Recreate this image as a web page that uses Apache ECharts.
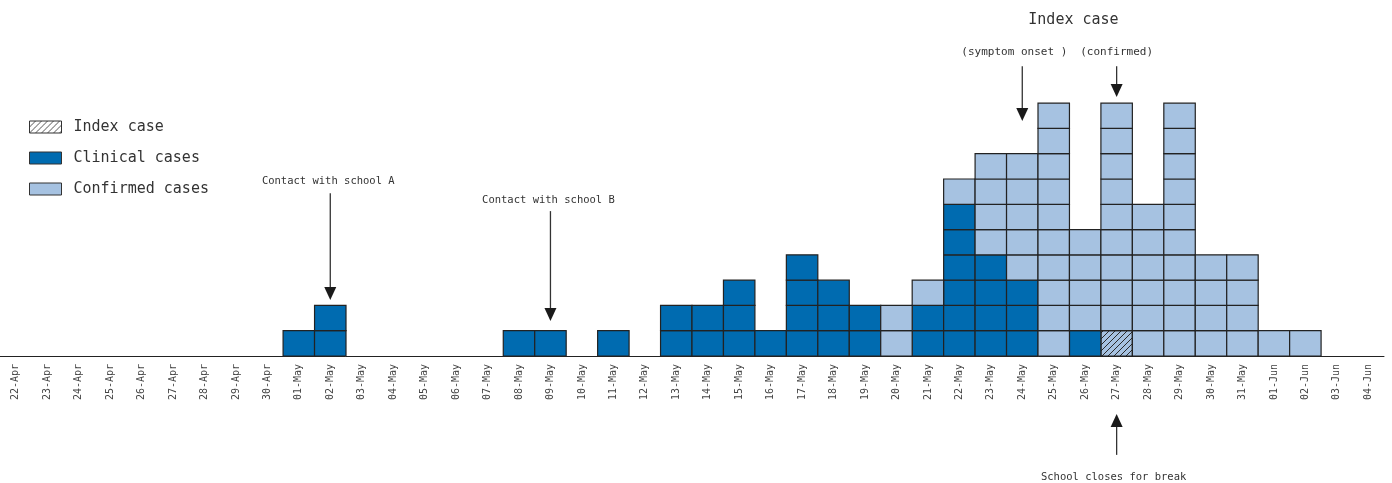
<!DOCTYPE html>
<html><head><meta charset="utf-8">
<script src="https://cdn.jsdelivr.net/npm/echarts@6/dist/echarts.min.js"></script>
<style>html,body{margin:0;padding:0;background:#fff}#c{width:1392px;height:483px}</style>
</head><body><div id="c"></div>
<script>
// ---- data ----
const dates = ['22-Apr','23-Apr','24-Apr','25-Apr','26-Apr','27-Apr','28-Apr','29-Apr','30-Apr',
  '01-May','02-May','03-May','04-May','05-May','06-May','07-May','08-May','09-May','10-May','11-May',
  '12-May','13-May','14-May','15-May','16-May','17-May','18-May','19-May','20-May','21-May','22-May',
  '23-May','24-May','25-May','26-May','27-May','28-May','29-May','30-May','31-May',
  '01-Jun','02-Jun','03-Jun','04-Jun'];
const indexCases = [0,0,0,0,0,0,0,0,0, 0,0,0,0,0,0,0,0,0,0,0, 0,0,0,0,0,0,0,0,0,0,0, 0,0,0,0,1,0,0,0,0, 0,0,0,0];
const clinicalCases = [0,0,0,0,0,0,0,0,0, 1,2,0,0,0,0,0,1,1,0,1, 0,2,2,3,1,4,3,2,0,2,6, 4,3,0,1,0,0,0,0,0, 0,0,0,0];
const confirmedCases = [0,0,0,0,0,0,0,0,0, 0,0,0,0,0,0,0,0,0,0,0, 0,0,0,0,0,0,0,0,2,1,1, 4,5,10,4,9,6,10,4,4, 1,1,0,0];

// ---- styling ----
const FONT = '"DejaVu Sans Mono", "Liberation Mono", monospace';
const DARK = '#006bb0', LIGHT = '#a6c2e1', EDGE = '#222';
function makeHatch(bg, fg) {
  const c = document.createElement('canvas');
  c.width = 6; c.height = 6;
  const g = c.getContext('2d');
  g.fillStyle = bg; g.fillRect(0,0,6,6);
  g.strokeStyle = fg; g.lineWidth = 1;
  g.beginPath();
  g.moveTo(-1,7); g.lineTo(7,-1);
  g.moveTo(-4,4); g.lineTo(4,-4);
  g.moveTo(2,10); g.lineTo(10,2);
  g.stroke();
  return {image: c, repeat: 'repeat'};
}
const HATCH = makeHatch(LIGHT, '#2a2a2a');
const HATCH_LEGEND = makeHatch('#ffffff', '#555');

const idxBase = dates.map(() => 0);
const clinBase = indexCases.slice();
const confBase = indexCases.map((v,i) => v + clinicalCases[i]);

function cellSeries(name, values, bases, fill) {
  return {
    type: 'custom', name,
    itemStyle: {color: fill, borderColor: EDGE, borderWidth: 1},
    data: values.map((v,i) => [i, bases[i], v]),
    encode: {x: 0, y: 1},
    renderItem: function(params, api) {
      const i = api.value(0), b = api.value(1), n = api.value(2);
      const w = api.size([1, 0])[0];
      const children = [];
      for (let k = 0; k < n; k++) {
        const p0 = api.coord([i, b + k]);
        const p1 = api.coord([i, b + k + 1]);
        children.push({type: 'rect',
          shape: {x: p0[0] - w/2, y: p1[1], width: w, height: p0[1] - p1[1]},
          style: {fill: fill, stroke: EDGE, lineWidth: 1.2}});
      }
      return {type: 'group', children};
    }
  };
}

const chart = echarts.init(document.getElementById('c'));
chart.setOption({
  animation: false,
  backgroundColor: '#fff',
  grid: {left: -2, right: 8, top: 2, bottom: 127},
  legend: {
    orient: 'vertical', left: 29, top: 119, padding: 0,
    itemWidth: 32, itemHeight: 12, itemGap: 15,
    icon: 'rect',
    itemStyle: {borderColor: '#333', borderWidth: 1},
    textStyle: {fontFamily: FONT, fontSize: 15, color: '#333', lineHeight: 16, padding: [0,0,0,7]},
    data: [
      {name: 'Index case', itemStyle: {color: HATCH_LEGEND}},
      'Clinical cases', 'Confirmed cases'
    ]
  },
  xAxis: {
    type: 'category', data: dates,
    axisLine: {lineStyle: {color: '#222', width: 1}},
    axisTick: {show: false},
    axisLabel: {interval: 0, rotate: 90, margin: 8, fontFamily: FONT, fontSize: 10, color: '#444'}
  },
  yAxis: {type: 'value', min: 0, max: 14, show: false},
  series: [
    cellSeries('Index case', indexCases, idxBase, HATCH),
    cellSeries('Clinical cases', clinicalCases, clinBase, DARK),
    cellSeries('Confirmed cases', confirmedCases, confBase, LIGHT)
  ]
});

// ---- annotations (arrows positioned from the axes) ----
const annotations = [
  {date: '02-May', text: 'Contact with school A', textY: 6.92, tailY: 6.44, tipY: 2.21, dx: -2, size: 10.5},
  {date: '09-May', text: 'Contact with school B', textY: 6.17, tailY: 5.73, tipY: 1.38, dx: -2, size: 10.5},
  {date: '24-May', text: '(symptom onset )', textY: 12.0, tailY: 11.46, tipY: 9.29, dx: -8, size: 11},
  {date: '27-May', text: '(confirmed)', textY: 12.0, tailY: 11.46, tipY: 10.24, dx: 0, size: 11},
  {date: '27-May', text: 'School closes for break', textY: -4.78, tailY: -3.91, tipY: -2.29, dx: -3, size: 10.5}
];
const elements = [];
annotations.forEach(a => {
  const tip = chart.convertToPixel({gridIndex: 0}, [a.date, a.tipY]);
  const tail = chart.convertToPixel({gridIndex: 0}, [a.date, a.tailY]);
  const txt = chart.convertToPixel({gridIndex: 0}, [a.date, a.textY]);
  const x = tip[0];
  const dir = tip[1] > tail[1] ? 1 : -1; // 1: pointing down
  const hb = tip[1] - dir * 13;
  elements.push({type: 'line', shape: {x1: x, y1: tail[1], x2: x, y2: hb},
    style: {stroke: '#333', lineWidth: 1.3}, silent: true});
  elements.push({type: 'polygon', shape: {points: [[x - 6, hb], [x + 6, hb], [x, tip[1]]]},
    style: {fill: '#1a1a1a'}, silent: true});
  elements.push({type: 'text', x: x + a.dx, y: txt[1],
    style: {text: a.text, font: a.size + 'px ' + FONT, fill: '#333', align: 'center', verticalAlign: 'middle'}, silent: true});
});
const s1 = chart.convertToPixel({gridIndex: 0}, ['24-May', 13.3]);
const s2 = chart.convertToPixel({gridIndex: 0}, ['27-May', 13.3]);
elements.push({type: 'text', x: (s1[0] + s2[0]) / 2 + 4, y: s1[1],
  style: {text: 'Index case', font: '15px ' + FONT, fill: '#333', align: 'center', verticalAlign: 'middle'}, silent: true});
chart.setOption({graphic: {elements}});
</script>
</body></html>
